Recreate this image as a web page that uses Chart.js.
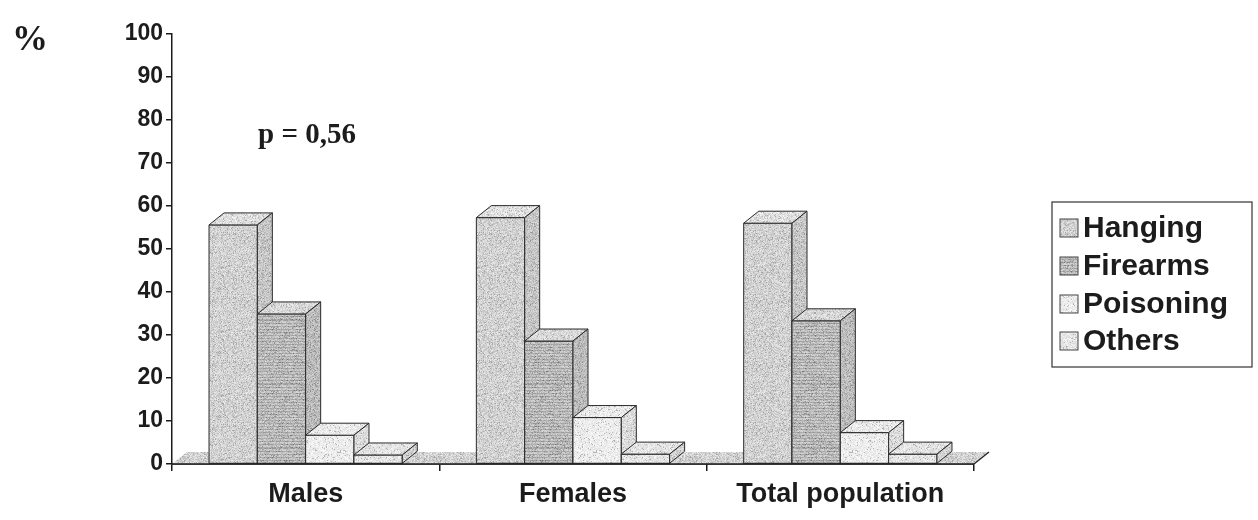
<!DOCTYPE html>
<html>
<head>
<meta charset="utf-8">
<script src="https://cdn.jsdelivr.net/npm/chart.js@4/dist/chart.umd.min.js"></script>
<style>
  html, body { margin: 0; padding: 0; background: #fff; }
  #wrap { width: 1258px; height: 520px; }
</style>
</head>
<body>
<div id="wrap"><canvas id="c" width="1258" height="520"></canvas></div>
<script>
// Suicide methods by sex (%)
const categories = ['Males', 'Females', 'Total population'];
const hanging   = [55.6, 57.3, 56.0];
const firearms  = [34.9, 28.6, 33.3];
const poisoning = [6.7, 10.8, 7.3];
const others    = [2.1, 2.3, 2.3];
const seriesNames = ['Hanging', 'Firearms', 'Poisoning', 'Others'];
const yTicks = [0, 10, 20, 30, 40, 50, 60, 70, 80, 90, 100];
const pValueText = 'p = 0,56';

// --- stippled fills -------------------------------------------------------
function hash(x, y, s) {
  let h = (Math.imul(x, 374761393) + Math.imul(y, 668265263) + Math.imul(s, 2246822519)) | 0;
  h = Math.imul(h ^ (h >>> 13), 1274126177);
  h ^= h >>> 16;
  return (h >>> 0) / 4294967296;
}
function stipple(base, spread, seed, stripes) {
  const size = 64;
  const cv = document.createElement('canvas');
  cv.width = size; cv.height = size;
  const g = cv.getContext('2d');
  const img = g.createImageData(size, size);
  for (let y = 0; y < size; y++) {
    for (let x = 0; x < size; x++) {
      const r = hash(x, y, seed);
      let v = base + (r - 0.5) * spread;
      if (r > 0.93) v -= 70;
      if (stripes && (y % 3 === 0)) v -= stripes;
      v = Math.max(0, Math.min(255, v));
      const i = (y * size + x) * 4;
      img.data[i] = img.data[i + 1] = img.data[i + 2] = v;
      img.data[i + 3] = 255;
    }
  }
  g.putImageData(img, 0, 0);
  return g.createPattern(cv, 'repeat');
}
const faces = [
  { front: stipple(212, 50, 1, 0),  top: stipple(226, 44, 2, 0),  side: stipple(200, 50, 3, 0) },
  { front: stipple(196, 46, 4, 28), top: stipple(218, 44, 5, 0),  side: stipple(190, 50, 6, 0) },
  { front: stipple(238, 30, 7, 0),  top: stipple(236, 34, 8, 0),  side: stipple(222, 40, 9, 0) },
  { front: stipple(232, 34, 10, 0), top: stipple(230, 36, 11, 0), side: stipple(214, 44, 12, 0) }
];
const floorFill = stipple(214, 50, 13, 0);
const swatchColors = ['#d4d4d4', '#bdbdbd', '#eeeeee', '#e2e2e2'];

const DX = 15, DY = 12; // depth of the 3-D extrusion

// Floor + extruded bars, drawn in front-to-back order per category
const bars3d = {
  id: 'bars3d',
  beforeDatasetsDraw(chart) {
    const ctx = chart.ctx;
    const xs = chart.scales.x, ys = chart.scales.y;
    const y0 = ys.getPixelForValue(0);
    ctx.save();
    // floor
    ctx.beginPath();
    ctx.moveTo(xs.left, y0);
    ctx.lineTo(xs.right, y0);
    ctx.lineTo(xs.right + DX, y0 - DY);
    ctx.lineTo(xs.left + DX, y0 - DY);
    ctx.closePath();
    ctx.fillStyle = floorFill;
    ctx.fill();
    ctx.strokeStyle = '#222';
    ctx.lineWidth = 1.2;
    ctx.beginPath();
    ctx.moveTo(xs.right, y0);
    ctx.lineTo(xs.right + DX, y0 - DY);
    ctx.stroke();

    ctx.lineWidth = 1;
    ctx.strokeStyle = '#2a2a2a';
    ctx.lineJoin = 'round';
    const nCat = chart.data.labels.length;
    const nSet = chart.data.datasets.length;
    for (let i = 0; i < nCat; i++) {
      for (let d = 0; d < nSet; d++) {
        const el = chart.getDatasetMeta(d).data[i];
        const p = el.getProps(['x', 'y', 'width', 'base'], true);
        const l = p.x - p.width / 2, r = p.x + p.width / 2, t = p.y, b = p.base;
        const f = faces[d];
        // front
        ctx.fillStyle = f.front;
        ctx.fillRect(l, t, r - l, b - t);
        ctx.strokeRect(l, t, r - l, b - t);
        // top
        ctx.beginPath();
        ctx.moveTo(l, t); ctx.lineTo(l + DX, t - DY); ctx.lineTo(r + DX, t - DY); ctx.lineTo(r, t);
        ctx.closePath();
        ctx.fillStyle = f.top; ctx.fill(); ctx.stroke();
        // side
        ctx.beginPath();
        ctx.moveTo(r, t); ctx.lineTo(r + DX, t - DY); ctx.lineTo(r + DX, b - DY); ctx.lineTo(r, b);
        ctx.closePath();
        ctx.fillStyle = f.side; ctx.fill(); ctx.stroke();
      }
    }
    // axis baseline over the floor edge
    ctx.strokeStyle = '#1a1a1a';
    ctx.lineWidth = 1.5;
    ctx.beginPath();
    ctx.moveTo(xs.left, y0);
    ctx.lineTo(xs.right, y0);
    ctx.stroke();
    ctx.restore();
    return false;
  }
};

// Boxed legend on the right and free text labels
const extras = {
  id: 'extras',
  afterDraw(chart) {
    const ctx = chart.ctx;
    ctx.save();
    // legend frame
    const bx = 1052, by = 202, bw = 200, bh = 165;
    ctx.strokeStyle = '#333';
    ctx.lineWidth = 1.2;
    ctx.strokeRect(bx, by, bw, bh);
    const rows = [228, 266, 304, 341];
    ctx.font = 'bold 30px "Liberation Sans", Arial, sans-serif';
    ctx.textBaseline = 'middle';
    ctx.textAlign = 'left';
    chart.data.datasets.forEach((ds, k) => {
      const cy = rows[k];
      ctx.fillStyle = faces[k].front;
      ctx.fillRect(1060, cy - 9, 18, 18);
      ctx.strokeStyle = '#444';
      ctx.lineWidth = 1;
      ctx.strokeRect(1060, cy - 9, 18, 18);
      ctx.fillStyle = '#1c1c1c';
      ctx.fillText(ds.label, 1083, cy + 1);
    });
    // percent sign
    ctx.font = 'bold 36px "Liberation Serif", "Times New Roman", serif';
    ctx.textBaseline = 'alphabetic';
    ctx.fillText('%', 12, 50);
    // p-value
    ctx.font = 'bold 29px "Liberation Serif", "Times New Roman", serif';
    ctx.fillText(pValueText, 258, 143);
    ctx.restore();
  }
};

new Chart(document.getElementById('c'), {
  type: 'bar',
  data: {
    labels: categories,
    datasets: [
      { label: seriesNames[0], data: hanging,   backgroundColor: swatchColors[0] },
      { label: seriesNames[1], data: firearms,  backgroundColor: swatchColors[1] },
      { label: seriesNames[2], data: poisoning, backgroundColor: swatchColors[2] },
      { label: seriesNames[3], data: others,    backgroundColor: swatchColors[3] }
    ]
  },
  options: {
    responsive: false,
    animation: false,
    layout: { padding: { left: 0, right: 284, top: 34, bottom: 0 } },
    datasets: { bar: { categoryPercentage: 0.723, barPercentage: 1.0 } },
    plugins: { legend: { display: false }, tooltip: { enabled: false } },
    scales: {
      x: {
        grid: { offset: true, drawOnChartArea: false, drawTicks: true, tickLength: 7, color: '#1a1a1a', lineWidth: 1.5 },
        border: { display: true, color: '#1a1a1a', width: 1.5 },
        ticks: { color: '#1c1c1c', padding: 7, font: { family: '"Liberation Sans", Arial, sans-serif', size: 27, weight: 'bold' } },
        afterFit(s) { s.height = 56; }
      },
      y: {
        min: 0, max: 100,
        afterBuildTicks(s) { s.ticks = yTicks.map(v => ({ value: v })); },
        grid: { drawOnChartArea: false, drawTicks: true, tickLength: 6, color: '#1a1a1a', lineWidth: 1.5 },
        border: { display: true, color: '#1a1a1a', width: 1.5 },
        ticks: { color: '#1c1c1c', padding: 3, font: { family: '"Liberation Sans", Arial, sans-serif', size: 23, weight: 'bold' } },
        afterFit(s) { s.width = 172; }
      }
    }
  },
  plugins: [bars3d, extras]
});
</script>
</body>
</html>
